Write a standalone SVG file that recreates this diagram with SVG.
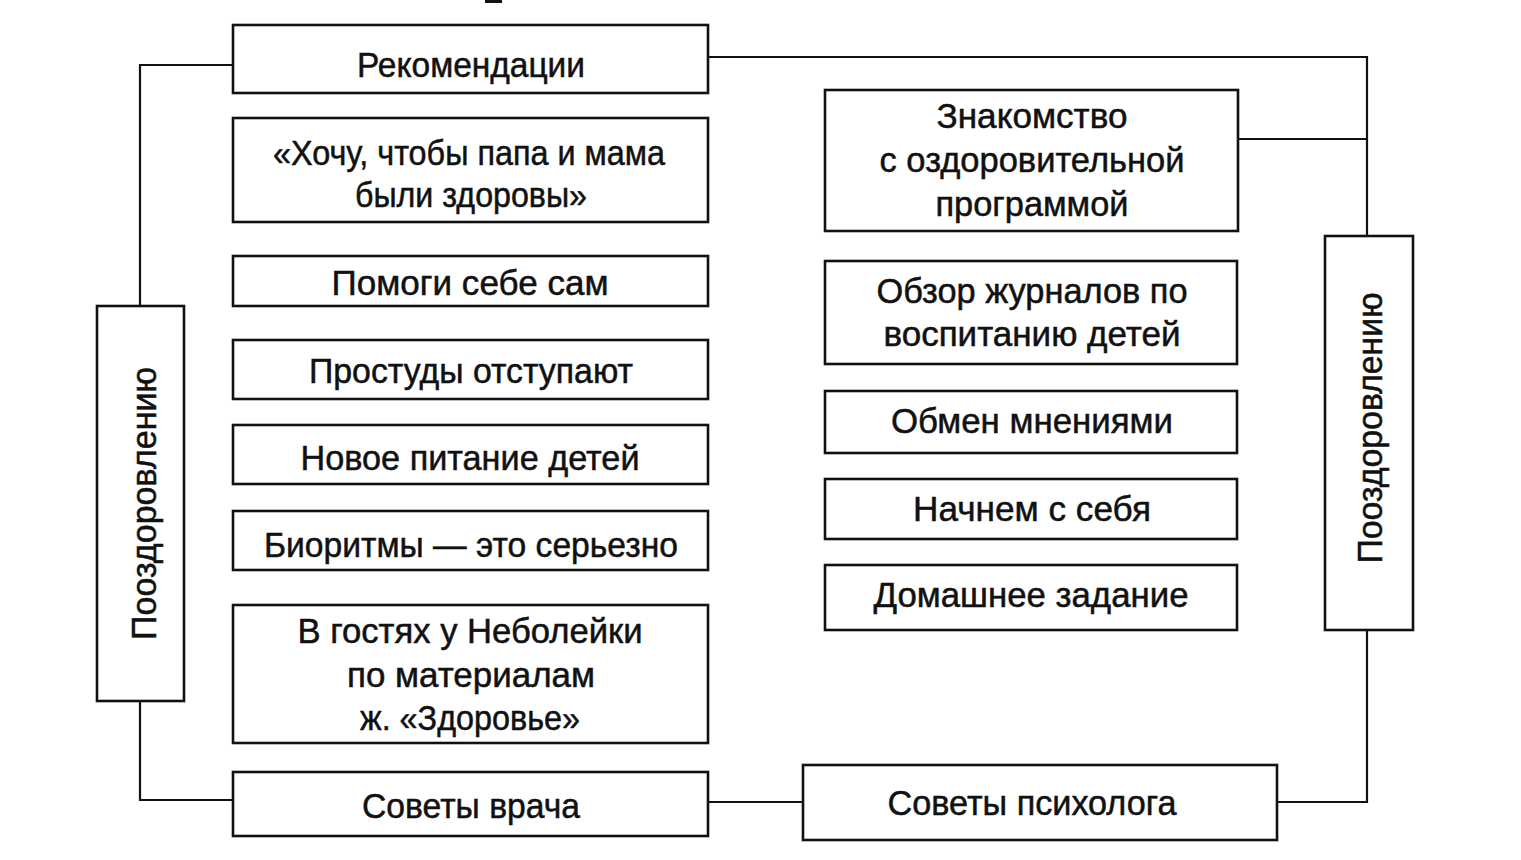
<svg xmlns="http://www.w3.org/2000/svg" width="1521" height="860" viewBox="0 0 1521 860">
<style>
.box{fill:#fff;stroke:#111;stroke-width:2.6}
.con{fill:none;stroke:#111;stroke-width:2.2}
text{font-family:"Liberation Sans",Arial,sans-serif;font-size:35px;fill:#111;text-anchor:middle;stroke:#111;stroke-width:0.5}
</style>
<rect x="0" y="0" width="1521" height="860" fill="#fff"/>
<rect x="485" y="0" width="17" height="3" fill="#111"/>
<g id="connectors">
<polyline class="con" points="140,306 140,65 233,65"/>
<polyline class="con" points="140,701 140,800 233,800"/>
<polyline class="con" points="708,57 1367,57 1367,236"/>
<line class="con" x1="1238" y1="139" x2="1367" y2="139"/>
<polyline class="con" points="1367,630 1367,802 1277,802"/>
<line class="con" x1="708" y1="802" x2="803" y2="802"/>
</g>
<g id="n-rek"><rect class="box" x="233" y="25" width="475" height="68"/><text x="471" y="77" textLength="228" lengthAdjust="spacingAndGlyphs">Рекомендации</text></g>
<g id="n-hochu"><rect class="box" x="233" y="118" width="475" height="104"/><text x="469" y="165" textLength="392" lengthAdjust="spacingAndGlyphs">«Хочу, чтобы папа и мама</text><text x="471" y="207" textLength="232" lengthAdjust="spacingAndGlyphs">были здоровы»</text></g>
<g id="n-pomogi"><rect class="box" x="233" y="256" width="475" height="50"/><text x="470" y="295" textLength="277" lengthAdjust="spacingAndGlyphs">Помоги себе сам</text></g>
<g id="n-prostudy"><rect class="box" x="233" y="340" width="475" height="59"/><text x="471" y="383" textLength="324" lengthAdjust="spacingAndGlyphs">Простуды отступают</text></g>
<g id="n-pitanie"><rect class="box" x="233" y="425" width="475" height="59"/><text x="470" y="470" textLength="339" lengthAdjust="spacingAndGlyphs">Новое питание детей</text></g>
<g id="n-bioritmy"><rect class="box" x="233" y="511" width="475" height="59"/><text x="471" y="557" textLength="414" lengthAdjust="spacingAndGlyphs">Биоритмы — это серьезно</text></g>
<g id="n-vgostyah"><rect class="box" x="233" y="605" width="475" height="138"/><text x="470" y="643" textLength="345" lengthAdjust="spacingAndGlyphs">В гостях у Неболейки</text><text x="471" y="687" textLength="248" lengthAdjust="spacingAndGlyphs">по материалам</text><text x="470" y="730" textLength="220" lengthAdjust="spacingAndGlyphs">ж. «Здоровье»</text></g>
<g id="n-vracha"><rect class="box" x="233" y="772" width="475" height="64"/><text x="471" y="818" textLength="218" lengthAdjust="spacingAndGlyphs">Советы врача</text></g>
<g id="n-left"><rect class="box" x="97" y="306" width="87" height="395"/><text transform="translate(156,503.5) rotate(-90)" x="0" y="0" textLength="273" lengthAdjust="spacingAndGlyphs">Пооздоровлению</text></g>
<g id="n-znak"><rect class="box" x="825" y="90" width="413" height="141"/><text x="1032" y="128" textLength="191" lengthAdjust="spacingAndGlyphs">Знакомство</text><text x="1032" y="172" textLength="305" lengthAdjust="spacingAndGlyphs">с оздоровительной</text><text x="1032" y="216" textLength="193" lengthAdjust="spacingAndGlyphs">программой</text></g>
<g id="n-obzor"><rect class="box" x="825" y="261" width="412" height="103"/><text x="1032" y="303" textLength="311" lengthAdjust="spacingAndGlyphs">Обзор журналов по</text><text x="1032" y="346" textLength="297" lengthAdjust="spacingAndGlyphs">воспитанию детей</text></g>
<g id="n-obmen"><rect class="box" x="825" y="391" width="412" height="62"/><text x="1032" y="433" textLength="282" lengthAdjust="spacingAndGlyphs">Обмен мнениями</text></g>
<g id="n-nachnem"><rect class="box" x="825" y="479" width="412" height="60"/><text x="1032" y="521" textLength="238" lengthAdjust="spacingAndGlyphs">Начнем с себя</text></g>
<g id="n-domash"><rect class="box" x="825" y="565" width="412" height="65"/><text x="1031" y="607" textLength="315" lengthAdjust="spacingAndGlyphs">Домашнее задание</text></g>
<g id="n-psih"><rect class="box" x="803" y="765" width="474" height="75"/><text x="1032" y="815" textLength="289" lengthAdjust="spacingAndGlyphs">Советы психолога</text></g>
<g id="n-right"><rect class="box" x="1325" y="236" width="88" height="394"/><text transform="translate(1382,428) rotate(-90)" x="0" y="0" textLength="271" lengthAdjust="spacingAndGlyphs">Пооздоровлению</text></g>
</svg>
